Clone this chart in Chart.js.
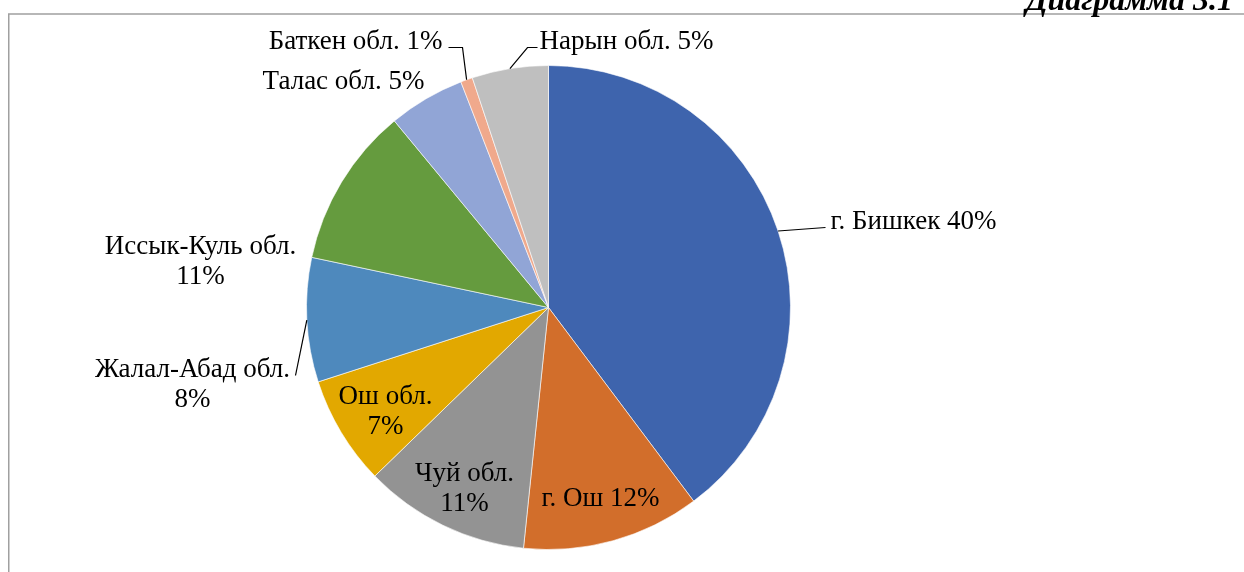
<!DOCTYPE html>
<html>
<head>
<meta charset="utf-8">
<script src="https://cdn.jsdelivr.net/npm/chart.js@4/dist/chart.umd.min.js"></script>
<style>
  html, body { margin: 0; padding: 0; background: #ffffff; }
  #wrap { width: 1244px; height: 572px; position: relative; }
</style>
</head>
<body>
<div id="wrap"><canvas id="c" width="1244" height="572"></canvas></div>
<script>
// ---- data ----
const categories = ['г. Бишкек', 'г. Ош', 'Чуй обл.', 'Ош обл.', 'Жалал-Абад обл.', 'Иссык-Куль обл.', 'Талас обл.', 'Баткен обл.', 'Нарын обл.'];
const shares = [39.8, 11.9, 11.1, 7.3, 8.3, 10.7, 5.1, 0.8, 5.1];
const percentLabels = ['40%', '12%', '11%', '7%', '8%', '11%', '5%', '1%', '5%'];
const chartTitle = 'Диаграмма 3.1';

const sliceColors = ['#3E64AD', '#D26E2B', '#939393', '#E2A800', '#4E89BD', '#659B3E', '#91A5D6', '#F0A98C', '#BFBFBF'];

// label layout: offsets from pie centre (px), align, line break, leader line
const labelLayout = [
  { dx: 282, dy: -79, align: 'left', twoLines: false, leader: [[277, -80]] },
  { dx: 52, dy: 198, align: 'center', twoLines: false },
  { dx: -84, dy: 173, align: 'center', twoLines: true },
  { dx: -163, dy: 96, align: 'center', twoLines: true },
  { dx: -356, dy: 69, align: 'center', twoLines: true, leader: [[-253, 68]] },
  { dx: -348, dy: -54, align: 'center', twoLines: true },
  { dx: -205, dy: -219, align: 'center', twoLines: false },
  { dx: -193, dy: -259, align: 'center', twoLines: false, leader: [[-86, -260], [-100, -260]] },
  { dx: 78, dy: -259, align: 'center', twoLines: false, leader: [[-21, -260], [-11, -260]] }
];

const FONT = '27px "Liberation Serif", "Times New Roman", serif';
const LINE_H = 30;

const decorPlugin = {
  id: 'decor',
  beforeDraw(chart) {
    const ctx = chart.ctx;
    ctx.save();
    ctx.fillStyle = '#ffffff';
    ctx.fillRect(0, 0, chart.width, chart.height);
    // frame
    ctx.strokeStyle = '#A0A0A0';
    ctx.lineWidth = 1.5;
    ctx.beginPath();
    ctx.moveTo(8.75, chart.height + 2);
    ctx.lineTo(8.75, 14);
    ctx.lineTo(chart.width + 2, 14);
    ctx.stroke();
    // title (cut at top)
    ctx.fillStyle = '#000000';
    ctx.font = 'bold italic 32px "Liberation Serif", "Times New Roman", serif';
    ctx.textAlign = 'right';
    ctx.textBaseline = 'alphabetic';
    ctx.fillText(chartTitle, 1233, 10);
    ctx.restore();
  },
  afterDatasetsDraw(chart) {
    const ctx = chart.ctx;
    const meta = chart.getDatasetMeta(0);
    ctx.save();
    ctx.font = FONT;
    ctx.fillStyle = '#000000';
    ctx.textBaseline = 'alphabetic';
    meta.data.forEach((arc, i) => {
      const p = arc.getProps(['x', 'y', 'startAngle', 'endAngle', 'outerRadius'], true);
      const cx = p.x, cy = p.y;
      const L = labelLayout[i];
      // leader line from slice edge
      if (L.leader) {
        const mid = (p.startAngle + p.endAngle) / 2;
        ctx.strokeStyle = '#000000';
        ctx.lineWidth = 1.2;
        ctx.beginPath();
        ctx.moveTo(cx + Math.cos(mid) * p.outerRadius, cy + Math.sin(mid) * p.outerRadius);
        L.leader.forEach(pt => ctx.lineTo(cx + pt[0], cy + pt[1]));
        ctx.stroke();
      }
      ctx.textAlign = L.align;
      const x = cx + L.dx, y = cy + L.dy;
      if (L.twoLines) {
        ctx.fillText(categories[i], x, y);
        ctx.fillText(percentLabels[i], x, y + LINE_H);
      } else {
        ctx.fillText(categories[i] + ' ' + percentLabels[i], x, y);
      }
    });
    ctx.restore();
  }
};

new Chart(document.getElementById('c'), {
  type: 'pie',
  data: {
    labels: categories,
    datasets: [{
      data: shares,
      backgroundColor: sliceColors,
      borderColor: 'rgba(255,255,255,0.6)',
      borderWidth: 1
    }]
  },
  options: {
    responsive: false,
    animation: false,
    rotation: 0,
    layout: { padding: { left: 306, right: 453, top: 65, bottom: 22 } },
    plugins: {
      legend: { display: false },
      tooltip: { enabled: false },
      title: { display: false }
    }
  },
  plugins: [decorPlugin]
});
</script>
</body>
</html>
